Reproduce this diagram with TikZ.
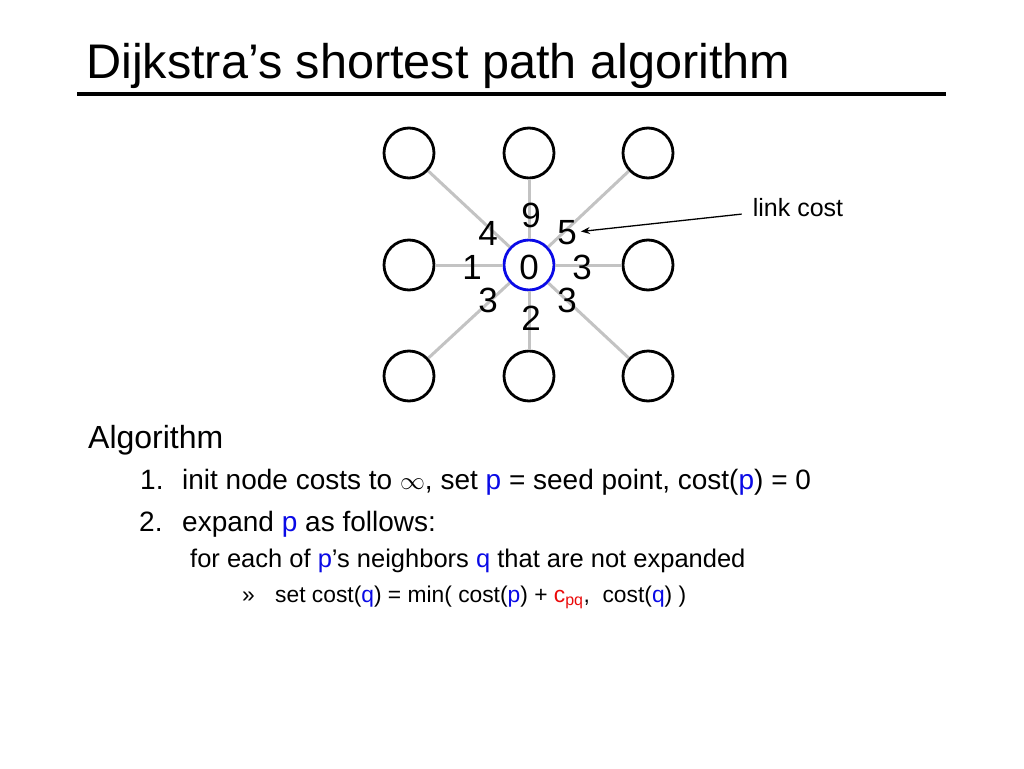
\documentclass[tikz,border=0pt]{standalone}
\usepackage{fontspec}
\setmainfont{Liberation Sans}
\usetikzlibrary{arrows.meta}

\definecolor{pblue}{RGB}{10,10,230}
\definecolor{cred}{RGB}{235,10,10}
\definecolor{linkgray}{RGB}{195,195,195}

\tikzset{
  vertex/.style={circle, draw=black, line width=2.8pt, minimum size=50pt, inner sep=0pt},
  seed/.style={vertex, draw=pblue},
  link/.style={draw=linkgray, line width=3pt},
  cost/.style={inner sep=0pt, font=\fontsize{35}{40}\selectfont},
  txt/.style={anchor=base west, inner sep=0pt},
}

\newcommand{\pp}{\textcolor{pblue}{p}}
\newcommand{\qq}{\textcolor{pblue}{q}}

\begin{document}
\begin{tikzpicture}[x=1pt, y=-1pt]

  \useasboundingbox[fill=white] (0, 0) rectangle (1024, 768);

  % title
  \node[txt, font=\fontsize{48.6}{56}\selectfont] (title) at (86, 78) {Dijkstra's shortest path algorithm};
  \draw[line width=4pt] (77, 94) -- (946, 94);

  % seed point and its neighbors
  \node[seed, font=\fontsize{35}{40}\selectfont] (p) at (529, 265) {\raisebox{-4pt}[\dimexpr\height-4pt\relax][0pt]{0}};
  \foreach \name/\x/\y in {nw/409/153, n/529/153, ne/648/153, w/409/265,
                           e/648/265, sw/409/376, s/529/376, se/648/376} {
    \node[vertex] (\name) at (\x, \y) {};
    \draw[link] (p) -- (\name);
  }

  % link costs
  \foreach \name/\x/\y/\c in {nw/488/233/4, n/531/215/9, ne/567/233/5, w/472/267/1,
                              e/582/267/3, sw/488/300/3, s/531/318/2, se/567/300/3} {
    \node[cost] (c-\name) at (\x, \y) {\c};
  }

  \node[inner xsep=11pt, inner ysep=0pt, font=\fontsize{25}{30}\selectfont] (lc) at (798, 208) {link cost};
  \draw[-{Stealth[length=9pt, width=7pt]}, line width=1.3pt, shorten >=4pt] (lc) -- (c-ne);

  % algorithm
  \node[txt, font=\fontsize{32}{38}\selectfont] (alg) at (88, 448) {Algorithm};
  \begin{scope}[font=\fontsize{28}{34}\selectfont]
    \node[txt] (i1) at (140, 489) {1.};
    \node[txt] (t1) at (182, 489) {init node costs to $\infty$, set \pp{} = seed point, cost(\pp) = 0};
    \node[txt] (i2) at (139, 531) {2.};
    \node[txt] (t2) at (182, 531) {expand \pp{} as follows:};
  \end{scope}
  \node[txt, font=\fontsize{25.5}{30}\selectfont] (t3) at (190, 567) {for each of \pp's neighbors \qq{} that are not expanded};
  \begin{scope}[font=\fontsize{22.8}{27}\selectfont]
    \node[txt] (i4) at (242, 602) {»};
    \node[txt] (t4) at (275, 602) {set cost(\qq) = min( cost(\pp) + \textcolor{cred}{c\textsubscript{pq}},\ \ cost(\qq) )};
  \end{scope}

\end{tikzpicture}
\end{document}
